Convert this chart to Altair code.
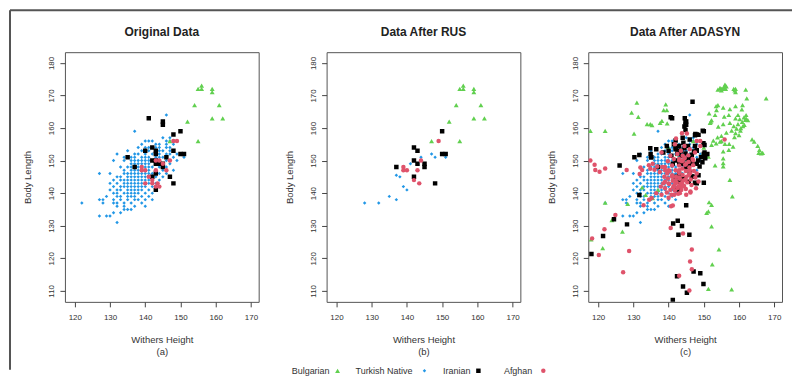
import altair as alt
import pandas as pd

BREEDS = ["Bulgarian", "Turkish Native", "Iranian", "Afghan"]
COLORS = ["#61D04F", "#2297E6", "#000000", "#DF536B"]
SHAPES = ["triangle-up", "diamond", "square", "circle"]
SIZES = [24, 12, 20, 20]
DRAW_ORDER = ["Turkish Native", "Bulgarian", "Iranian", "Afghan"]
PANEL_TITLES = ["Original Data", "Data After RUS", "Data After ADASYN"]
PANEL_TAGS = ["(a)", "(b)", "(c)"]
X_TICKS = [120, 130, 140, 150, 160, 170]
Y_TICKS = [110, 120, 130, 140, 150, 160, 170, 180]

# ---- Original data -------------------------------------------------------
# Turkish Native: body length -> withers heights on that row
TN_ORIG_ROWS = {
    164: [146],
    159: [137],
    157: [145, 147],
    156: [140, 141, 142, 146, 147, 149],
    155: [139, 143, 144, 146, 148],
    154: [138, 140, 141, 142, 143, 144, 146, 147],
    153: [135, 139, 141, 143, 144, 145, 147, 148],
    152: [132, 137, 138, 140, 142, 144, 146, 147, 149],
    151: [134, 136, 137, 139, 140, 141, 143, 144, 145, 148, 151],
    150: [131, 134, 136, 137, 138, 139, 140, 141, 142, 144, 146, 149],
    149: [136, 137, 138, 139, 140, 141, 143, 145, 147],
    148: [133, 135, 136, 137, 138, 139, 140, 141, 142, 144, 146],
    147: [134, 136, 137, 138, 139, 140, 141, 143, 145, 148],
    146: [127, 130, 134, 135, 136, 137, 138, 139, 140, 141, 142, 144, 146],
    145: [132, 133, 135, 136, 137, 138, 139, 140, 141, 143, 145, 147],
    144: [131, 133, 134, 135, 136, 137, 138, 139, 140, 141, 142, 144],
    143: [130, 132, 134, 135, 136, 137, 138, 139, 140, 141, 143],
    142: [131, 133, 134, 135, 136, 137, 138, 139, 140, 142, 144],
    141: [130, 132, 133, 135, 136, 137, 138, 139, 141],
    140: [131, 132, 134, 135, 136, 137, 138, 140, 142],
    139: [129, 132, 133, 135, 136, 137, 139, 141],
    138: [127, 128, 131, 133, 135, 137, 138, 140, 142],
    137: [122, 128, 131, 132, 134, 136, 139],
    136: [132, 134, 137, 140],
    135: [134, 135, 136],
    134: [131, 133],
    133: [127, 129, 130],
    131: [132],
}
BG_ORIG = [(155, 172), (156, 173), (156, 172), (159, 172), (159, 171), (154, 167),
           (161, 167), (152, 162), (159, 163), (162, 163), (147, 156), (155, 156)]
IR_ORIG = [(141, 163), (145, 162), (145, 161), (150, 159), (148, 158), (135, 151),
           (142, 154), (140, 153), (148, 153), (151, 152), (150, 152), (146, 151),
           (143, 150), (142, 150), (144, 149), (145, 149), (145, 148), (143, 146),
           (142, 145), (147, 145), (148, 143), (143, 141), (143, 152), (143, 153),
           (137, 148), (143, 149)]
AF_ORIG = [(139, 148), (139, 147), (140, 147), (143, 147), (144, 150), (142, 144),
           (143.5, 143), (149, 156), (140, 143), (142, 143), (143, 142), (144, 142),
           (143, 150), (147, 150), (148, 156), (141, 145), (146, 147), (145, 149)]

# ---- After random under-sampling ----------------------------------------
BG_RUS = list(BG_ORIG)
TN_RUS = [(128, 137), (132, 137), (135, 139), (137, 138), (139, 142), (140, 141),
          (137, 145.5), (138, 145), (141, 149), (144, 151), (147, 152), (148, 151),
          (151, 151)]
IR_RUS = [(150, 159), (142, 154), (143, 153), (150, 152), (151, 152), (142, 150),
          (143, 149), (145, 149), (145, 148), (137, 148), (142, 145), (148, 143)]
AF_RUS = [(139, 148), (139, 147), (140, 147), (143, 147), (144, 150), (142, 144),
          (143.5, 143), (149, 156)]

# ---- Synthetic points added by ADASYN -----------------------------------
BG_ADASYN_EXTRA = [
    (154.6, 172.3), (155.3, 172.0), (155.8, 172.6), (156.2, 172.0), (154.0, 171.8),
    (155.0, 171.6), (156.4, 172.8), (156.0, 173.3), (158.5, 172.0), (158.8, 171.6),
    (161.9, 171.8), (162.2, 169.1), (167.7, 169.1), (153.5, 166.7), (153.6, 165.5),
    (153.2, 164.0), (155.5, 166.3), (157.4, 165.8), (159.0, 166.7), (160.8, 165.7),
    (159.7, 164.0), (157.1, 164.0), (155.8, 163.5), (151.5, 164.5), (152.2, 162.4),
    (151.8, 161.6), (154.1, 160.4), (155.5, 161.2), (157.4, 161.6), (158.5, 160.6),
    (159.7, 161.2), (160.2, 162.7), (161.4, 163.3), (162.0, 164.0), (162.5, 162.4),
    (161.1, 160.6), (160.4, 159.2), (159.0, 158.4), (157.9, 159.2), (156.4, 158.6),
    (155.0, 157.6), (153.9, 157.1), (152.7, 156.1), (152.2, 154.8), (153.5, 155.3),
    (154.6, 155.8), (156.0, 155.1), (157.2, 155.1), (158.3, 154.3), (157.1, 153.3),
    (155.5, 152.8), (155.5, 150.7), (155.5, 149.2), (155.5, 148.2), (153.2, 148.5),
    (151.3, 151.2), (163.7, 156.5), (164.3, 155.8), (165.3, 154.5), (165.8, 153.3),
    (166.3, 152.2), (166.7, 152.4), (165.6, 152.4), (160.9, 161.9), (161.5, 161.0),
    (160.5, 160.0), (161.8, 162.5), (159.3, 159.8), (158.7, 157.2), (160.0, 157.8),
    (157.4, 144.1), (158.1, 139.0), (151.5, 137.2), (152.2, 136.4), (151.3, 134.4),
    (150.8, 133.9), (152.2, 129.8), (154.3, 122.7), (152.4, 118.1), (151.3, 110.6),
    (157.9, 110.4), (131.0, 167.8), (129.5, 164.7), (131.4, 163.4), (133.9, 161.2),
    (134.8, 161.2), (135.3, 160.9), (137.6, 161.6), (138.1, 162.2), (139.6, 161.4),
    (139.2, 167.3), (138.6, 165.5), (139.5, 165.5), (130.2, 158.3), (122.0, 159.1),
    (117.8, 159.1), (122.0, 137.1), (123.9, 131.7), (126.9, 128.2), (121.3, 123.1),
    (118.0, 125.8), (128.4, 136.7), (132.5, 141.8), (139.8, 154.3), (133.5, 139.5),
    (135.5, 138.5), (142.5, 152.0), (149.5, 151.5), (150.0, 154.0), (137.0, 141.0),
    (140.0, 147.1),
]
IR_ADASYN_EXTRA = [
    (118.1, 121.3), (121.4, 126.8), (124.5, 132.0), (128.2, 130.4), (126.1, 148.5),
    (130.3, 151.0), (131.7, 151.7), (131.7, 139.4), (134.9, 152.0), (135.1, 151.0),
    (134.8, 153.8), (140.6, 163.3), (144.8, 162.0), (144.8, 161.0), (144.8, 159.4),
    (146.8, 168.1), (147.6, 158.2), (148.5, 157.9), (149.7, 159.2), (149.9, 155.3),
    (150.4, 150.7), (148.0, 149.0), (150.0, 143.2), (147.5, 143.2), (145.7, 143.5),
    (146.6, 145.1), (142.4, 141.0), (145.0, 136.3), (141.3, 130.7), (142.6, 131.5),
    (143.8, 129.9), (142.8, 127.2), (145.9, 127.2), (147.1, 115.9), (149.0, 115.4),
    (149.9, 112.1), (144.1, 111.3), (145.2, 109.4), (141.2, 107.2), (142.4, 114.5),
    (141.5, 155.0), (142.0, 153.5), (142.5, 152.2), (143.0, 154.5), (143.5, 153.0),
    (143.8, 151.5), (144.2, 155.5), (144.5, 153.8), (144.8, 152.2), (145.0, 150.6),
    (145.5, 154.5), (145.8, 148.8), (146.2, 150.2), (146.6, 151.8), (146.8, 149.5),
    (147.2, 152.8), (147.5, 154.5), (148.0, 153.2), (148.4, 150.0), (148.8, 148.2),
    (149.2, 151.0), (149.6, 149.5), (150.2, 152.5), (140.8, 151.5), (141.2, 149.0),
    (143.4, 149.8), (142.0, 156.2), (144.0, 157.0), (146.0, 156.5), (147.5, 157.8),
    (150.2, 154.8), (146.0, 146.5), (144.0, 144.5), (148.5, 145.5), (143.0, 143.5),
    (144.5, 160.5), (144.6, 163.0), (136.5, 153.5), (138.5, 152.5), (139.5, 154.5),
]
AF_ADASYN_EXTRA = [
    (138.5, 143.0), (139.0, 141.5), (139.5, 140.2), (139.8, 144.5), (140.2, 142.8),
    (140.5, 141.0), (140.8, 139.5), (141.0, 145.5), (141.2, 143.8), (141.5, 142.2),
    (141.8, 140.8), (142.0, 147.0), (142.1, 145.0), (142.3, 143.3), (142.5, 141.6),
    (142.7, 139.8), (143.0, 148.5), (143.0, 146.2), (143.2, 144.4), (143.4, 142.7),
    (143.6, 141.0), (143.8, 149.8), (143.9, 147.6), (144.0, 145.6), (144.2, 143.9),
    (144.4, 142.2), (144.6, 150.8), (144.7, 148.7), (144.9, 146.8), (145.1, 145.0),
    (145.3, 143.3), (145.6, 151.6), (145.7, 149.6), (145.9, 147.9), (146.1, 146.1),
    (146.3, 144.2), (146.8, 150.5), (147.0, 148.6), (147.2, 146.8), (147.6, 144.8),
    (141.0, 148.5), (140.3, 146.8), (139.6, 146.0), (138.8, 145.0), (138.2, 148.0),
    (137.5, 146.5), (136.8, 148.2), (136.0, 147.2), (135.5, 149.0), (134.8, 147.5),
    (141.5, 150.5), (142.5, 152.0), (143.5, 153.0), (140.5, 151.5), (139.8, 149.8),
    (144.5, 154.5), (141.8, 155.0), (143.0, 144.8), (142.0, 143.0), (141.3, 141.8),
    (143.8, 143.0), (144.8, 144.2), (145.8, 145.6), (142.8, 142.0), (141.6, 139.5),
    (140.0, 138.6), (143.2, 140.0), (144.9, 141.3), (146.5, 142.5), (145.0, 139.5),
    (147.8, 141.5), (148.5, 143.6), (146.2, 140.5), (139.0, 143.5), (137.8, 142.0),
    (138.0, 139.5), (136.5, 140.0), (135.2, 138.5), (140.7, 136.0), (148.0, 146.0),
    (147.5, 152.5), (149.0, 154.5), (146.0, 153.5), (144.0, 151.5), (143.0, 150.5),
    (117.8, 150.0), (119.2, 147.1), (120.4, 146.6), (119.0, 148.7), (122.0, 147.6),
    (128.1, 147.1), (132.0, 147.9), (132.5, 147.1), (131.8, 145.9), (134.4, 148.6),
    (124.9, 133.3), (121.8, 128.9), (118.3, 126.1), (120.2, 121.0), (128.8, 122.2),
    (127.1, 115.7), (140.6, 129.3), (141.2, 136.2), (144.1, 127.6), (143.0, 114.6),
    (146.6, 122.7), (146.1, 119.0), (146.6, 116.6), (145.9, 110.1), (134.5, 138.0),
    (146.2, 140.2), (143.8, 158.4), (155.9, 156.5), (142.1, 156.8), (145.2, 158.3),
    (132.9, 136.3), (138.0, 152.5),
]

# ---- layout (pixels) ------------------------------------------------------
X_DOMAIN = [117.2, 172.2]
Y_DOMAIN = [106.6, 183.3]
PANEL_W = 194
PANEL_H = 250
LEGEND_SYMBOL_X = [11, 98, 152, 217]    # relative to the middle panel
LEGEND_LABEL_GAP = [8, 12, 8, 11]
LEGEND_Y = 319


def tn_orig_points():
    pts = []
    for yv, xs in TN_ORIG_ROWS.items():
        for xv in xs:
            pts.append((xv, yv))
    return pts


PANEL_DATA = {
    "Original Data": {
        "Bulgarian": BG_ORIG,
        "Turkish Native": tn_orig_points(),
        "Iranian": IR_ORIG,
        "Afghan": AF_ORIG,
    },
    "Data After RUS": {
        "Bulgarian": BG_RUS,
        "Turkish Native": TN_RUS,
        "Iranian": IR_RUS,
        "Afghan": AF_RUS,
    },
    "Data After ADASYN": {
        "Bulgarian": BG_ORIG + BG_ADASYN_EXTRA,
        "Turkish Native": tn_orig_points(),
        "Iranian": IR_ORIG + IR_ADASYN_EXTRA,
        "Afghan": AF_ORIG + AF_ADASYN_EXTRA,
    },
}

rows = []
for panel, groups in PANEL_DATA.items():
    for breed in DRAW_ORDER:
        for xv, yv in groups[breed]:
            rows.append({"panel": panel, "breed": breed, "x": xv, "y": yv})
df = pd.DataFrame(rows)

color_enc = alt.Color("breed:N", scale=alt.Scale(domain=BREEDS, range=COLORS), legend=None)
shape_enc = alt.Shape("breed:N", scale=alt.Scale(domain=BREEDS, range=SHAPES), legend=None)
size_enc = alt.Size("breed:N", scale=alt.Scale(type="ordinal", domain=BREEDS, range=SIZES), legend=None)

one_row = pd.DataFrame({"k": [0]})
TEXT_FONT = "Liberation Sans"


def legend_layers():
    layers = []
    for b, sx, gap in zip(BREEDS, LEGEND_SYMBOL_X, LEGEND_LABEL_GAP):
        item = pd.DataFrame({"breed": [b]})
        layers.append(alt.Chart(item).mark_point(
            filled=True, opacity=1, strokeWidth=0, clip=False
        ).encode(x=alt.value(sx), y=alt.value(LEGEND_Y),
                 color=color_enc, shape=shape_enc, size=size_enc))
        layers.append(alt.Chart(item).mark_text(
            font=TEXT_FONT, fontSize=9, color="#333", align="right",
            baseline="middle", clip=False,
        ).encode(x=alt.value(sx - gap), y=alt.value(LEGEND_Y), text="breed:N"))
    return layers


def make_panel(i):
    title = PANEL_TITLES[i]
    pts = alt.Chart(df[df.panel == title]).mark_point(
        filled=True, opacity=1, strokeWidth=0, clip=True
    ).encode(
        x=alt.X("x:Q",
                scale=alt.Scale(domain=X_DOMAIN, nice=False, zero=False),
                axis=alt.Axis(values=X_TICKS, title=["Withers Height", PANEL_TAGS[i]],
                              labelPadding=7, titlePadding=13, titleLineHeight=12)),
        y=alt.Y("y:Q",
                scale=alt.Scale(domain=Y_DOMAIN, nice=False, zero=False),
                axis=alt.Axis(values=Y_TICKS, title="Body Length", labelAngle=-90,
                              labelAlign="center", labelBaseline="bottom",
                              labelPadding=4, titlePadding=15)),
        color=color_enc, shape=shape_enc, size=size_enc,
    )
    heading = alt.Chart(one_row).mark_text(
        font=TEXT_FONT, fontSize=12, fontWeight="bold", color="#222",
        align="center", baseline="middle", clip=False,
    ).encode(x=alt.value(PANEL_W / 2), y=alt.value(-20), text=alt.value(title))
    layers = [pts, heading]
    if i == 0:
        top_line = alt.Chart(one_row).mark_rule(color="#555", strokeWidth=2, clip=False).encode(
            x=alt.value(-55), x2=alt.value(728), y=alt.value(-42))
        left_line = alt.Chart(one_row).mark_rule(color="#555", strokeWidth=2, clip=False).encode(
            x=alt.value(-55), y=alt.value(-42), y2=alt.value(318))
        layers += [top_line, left_line]
    if i == 1:
        layers += legend_layers()
    return alt.layer(*layers).properties(width=PANEL_W, height=PANEL_H)


chart = alt.hconcat(
    make_panel(0), make_panel(1), make_panel(2),
    spacing=68, bounds="flush",
    padding={"left": 0, "top": 0, "right": 0, "bottom": 0},
).configure_view(
    stroke="#555", strokeWidth=1
).configure_axis(
    domain=False, grid=False, tickColor="#444", tickWidth=1, tickSize=5,
    labelFont=TEXT_FONT, labelFontSize=8, labelColor="#333",
    titleFont=TEXT_FONT, titleFontSize=9.5, titleColor="#333",
    titleFontWeight="normal",
)

chart.save("out.html", embed_options={"renderer": "svg", "actions": False})
